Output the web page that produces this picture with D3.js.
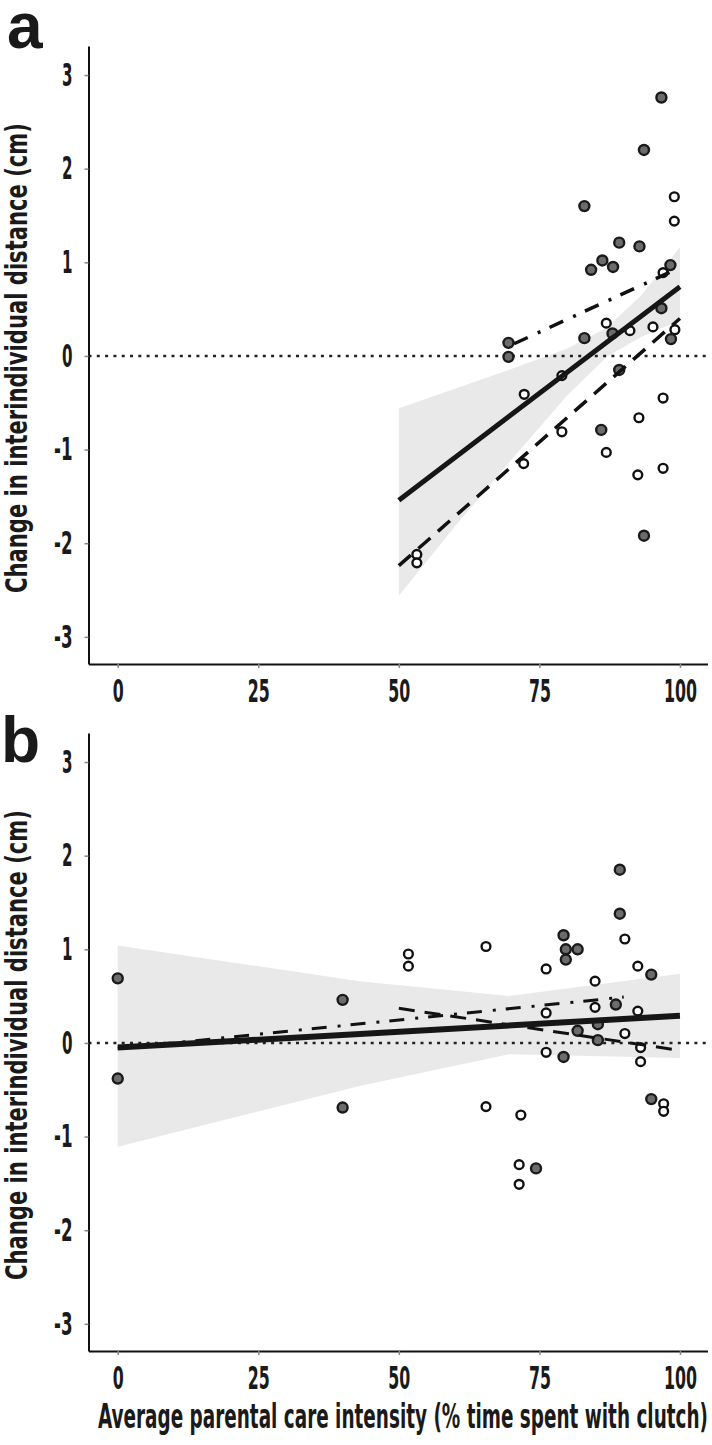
<!DOCTYPE html>
<html>
<head>
<meta charset="utf-8">
<script src="https://cdn.jsdelivr.net/npm/d3@7"></script>
<style>
  html, body { margin: 0; padding: 0; background: #fff; }
  svg { display: block; }
  text { font-family: "Liberation Sans Narrow", "DejaVu Sans Condensed", "Roboto", "Liberation Sans", sans-serif; font-stretch: condensed; fill: #1a1a1a; }
</style>
</head>
<body>
<script>
// ---------------- DATA ----------------
const xTicks = [0, 25, 50, 75, 100];
const yTicks = [-3, -2, -1, 0, 1, 2, 3];
const yTitle = "Change in interindividual distance (cm)";
const xTitle = "Average parental care intensity (% time spent with clutch)";
const panelLabels = ["a", "b"];

// Panel a – filled (grey) points
const aFilledX = [96.7, 93.6, 83.0, 89.2, 92.8, 86.2, 84.2, 88.1, 98.3, 96.7, 83.0, 69.5, 69.5, 98.4, 88.0, 89.2, 86.0, 93.6];
const aFilledY = [2.76, 2.20, 1.60, 1.21, 1.17, 1.02, 0.92, 0.95, 0.97, 0.51, 0.19, 0.14, -0.01, 0.18, 0.24, -0.15, -0.79, -1.92];
// Panel a – open points
const aOpenX = [99.0, 99.0, 97.0, 86.9, 91.1, 95.2, 99.1, 72.3, 79.0, 97.0, 92.7, 79.0, 86.9, 72.2, 97.0, 92.5, 53.2, 53.2];
const aOpenY = [1.70, 1.44, 0.89, 0.35, 0.27, 0.31, 0.28, -0.41, -0.21, -0.45, -0.66, -0.81, -1.03, -1.15, -1.20, -1.27, -2.12, -2.21];
// Panel a – fitted lines (x endpoints, y endpoints)
const aSolidX = [50, 100],   aSolidY = [-1.54, 0.74];
const aDashX = [50, 100],    aDashY = [-2.24, 0.40];
const aDashDotX = [70.5, 98.4], aDashDotY = [0.13, 0.90];
// Panel a – confidence band
const aBandX = [50, 60, 70, 80, 87, 93, 100];
const aBandLo = [-2.56, -1.82, -1.11, -0.42, -0.01, 0.20, 0.38];
const aBandHi = [-0.56, -0.35, -0.14, 0.08, 0.30, 0.64, 1.16];

// Panel b – filled (grey) points
const bFilledX = [0, 0, 40, 40, 89.3, 89.3, 79.3, 79.7, 81.8, 79.7, 94.9, 88.6, 81.8, 85.4, 85.4, 79.3, 94.9, 74.4];
const bFilledY = [0.69, -0.38, 0.46, -0.69, 1.85, 1.38, 1.15, 1.00, 1.00, 0.89, 0.73, 0.41, 0.13, 0.20, 0.03, -0.15, -0.60, -1.34];
// Panel b – open points
const bOpenX = [90.2, 51.7, 51.7, 65.5, 76.2, 92.5, 84.9, 84.9, 92.5, 76.2, 90.2, 93.0, 93.0, 76.2, 97.1, 97.1, 65.5, 71.7, 71.4, 71.4];
const bOpenY = [1.11, 0.95, 0.82, 1.03, 0.79, 0.82, 0.66, 0.38, 0.34, 0.32, 0.10, -0.05, -0.20, -0.10, -0.65, -0.73, -0.68, -0.77, -1.30, -1.51];
// Panel b – fitted lines
const bSolidX = [0, 100],    bSolidY = [-0.05, 0.29];
const bDashX = [50, 100],    bDashY = [0.37, -0.08];
const bDashDotX = [0, 90],   bDashDotY = [-0.06, 0.49];
// Panel b – confidence band
const bBandX = [0, 43, 69.6, 100];
const bBandLo = [-1.11, -0.46, -0.12, -0.16];
const bBandHi = [1.04, 0.66, 0.50, 0.74];

// ---------------- DRAW ----------------
const W = 712, H = 1445;
const svg = d3.select("body").append("svg").attr("width", W).attr("height", H);

const x = d3.scaleLinear().domain([-5.2, 104.9]).range([88.5, 707.5]);

const panels = [
  { top: 46, bottom: 664, label: panelLabels[0], labelX: 7, labelY: 48,
    filledX: aFilledX, filledY: aFilledY, openX: aOpenX, openY: aOpenY,
    solid: [aSolidX, aSolidY], dash: [aDashX, aDashY], dashdot: [aDashDotX, aDashDotY],
    band: [aBandX, aBandLo, aBandHi], solidW: 5, dashW: 3.5 },
  { top: 733, bottom: 1351, label: panelLabels[1], labelX: 1, labelY: 762,
    filledX: bFilledX, filledY: bFilledY, openX: bOpenX, openY: bOpenY,
    solid: [bSolidX, bSolidY], dash: [bDashX, bDashY], dashdot: [bDashDotX, bDashDotY],
    band: [bBandX, bBandLo, bBandHi], solidW: 6, dashW: 3 }
];

const tickFont = "'Liberation Sans Narrow', 'DejaVu Sans Condensed', 'Liberation Sans', sans-serif";

function fitText(sel, widthFn) {
  sel.each(function() {
    const w = widthFn(this.textContent);
    d3.select(this).attr("textLength", w).attr("lengthAdjust", "spacingAndGlyphs");
  });
}

panels.forEach(p => {
  const y = d3.scaleLinear().domain([-3.29, 3.31]).range([p.bottom, p.top]);
  const g = svg.append("g");

  // band
  const bandData = p.band[0].map((v, i) => ({ x: v, lo: p.band[1][i], hi: p.band[2][i] }));
  g.append("path")
    .attr("d", d3.area().x(d => x(d.x)).y0(d => y(d.lo)).y1(d => y(d.hi))(bandData))
    .attr("fill", "#e9e9e9");

  // zero line
  g.append("line")
    .attr("x1", x.range()[0]).attr("x2", x.range()[1])
    .attr("y1", y(0)).attr("y2", y(0))
    .attr("stroke", "#222").attr("stroke-width", 2.4)
    .attr("stroke-dasharray", "3,5.3");

  // points
  const open = p.openX.map((v, i) => ({ x: v, y: p.openY[i] }));
  const filled = p.filledX.map((v, i) => ({ x: v, y: p.filledY[i] }));
  g.selectAll(".op").data(open).enter().append("circle")
    .attr("cx", d => x(d.x)).attr("cy", d => y(d.y)).attr("r", 4.4)
    .attr("fill", "#fff").attr("stroke", "#111").attr("stroke-width", 2.4);
  g.selectAll(".fp").data(filled).enter().append("circle")
    .attr("cx", d => x(d.x)).attr("cy", d => y(d.y)).attr("r", 5)
    .attr("fill", "#6c6c6c").attr("stroke", "#1a1a1a").attr("stroke-width", 2.4);

  // lines
  const line = d3.line().x(d => x(d[0])).y(d => y(d[1]));
  const mk = (arr) => arr[0].map((v, i) => [v, arr[1][i]]);
  g.append("path").attr("d", line(mk(p.dash))).attr("fill", "none")
    .attr("stroke", "#111").attr("stroke-width", p.dashW).attr("stroke-dasharray", "16,10");
  g.append("path").attr("d", line(mk(p.dashdot))).attr("fill", "none")
    .attr("stroke", "#111").attr("stroke-width", p.dashW).attr("stroke-dasharray", "15,11,3,10");
  g.append("path").attr("d", line(mk(p.solid))).attr("fill", "none")
    .attr("stroke", "#161616").attr("stroke-width", p.solidW);

  // axes
  const ya = g.append("g").attr("transform", `translate(${x.range()[0]},0)`)
    .call(d3.axisLeft(y).tickValues(yTicks).tickSize(4).tickSizeOuter(0).tickPadding(12).tickFormat(d => String(d)));
  ya.select(".domain").attr("stroke", "#111").attr("stroke-width", 2);
  ya.selectAll(".tick line").attr("stroke", "#888").attr("stroke-width", 1.5);
  ya.selectAll(".tick text").attr("font-size", 32).attr("font-weight", 600)
    .attr("font-family", tickFont).attr("fill", "#1a1a1a");
  fitText(ya.selectAll(".tick text"), t => t.replace("-", "").length * 10.5 + (t.includes("-") ? 8 : 0));

  const xa = g.append("g").attr("transform", `translate(0,${p.bottom})`)
    .call(d3.axisBottom(x).tickValues(xTicks).tickSize(4).tickSizeOuter(0).tickPadding(11).tickFormat(d => String(d)));
  xa.select(".domain").attr("stroke", "#111").attr("stroke-width", 2);
  xa.selectAll(".tick line").attr("stroke", "#888").attr("stroke-width", 1.5);
  xa.selectAll(".tick text").attr("font-size", 32).attr("font-weight", 600)
    .attr("font-family", tickFont).attr("fill", "#1a1a1a");
  fitText(xa.selectAll(".tick text"), t => t.length * 11);

  // y title
  const cy = (p.top + p.bottom) / 2 + 3;
  g.append("text")
    .attr("transform", `translate(26.5,${cy}) rotate(-90)`)
    .attr("text-anchor", "middle")
    .attr("font-size", 30).attr("font-weight", 600)
    .attr("textLength", 470).attr("lengthAdjust", "spacingAndGlyphs")
    .text(yTitle);

  // panel label
  g.append("text").attr("x", p.labelX).attr("y", p.labelY)
    .attr("font-size", 64).attr("font-weight", 700)
    .style("font-family", "'Liberation Sans', 'DejaVu Sans', sans-serif")
    .attr("fill", "#000")
    .text(p.label);
});

// x title
svg.append("text")
  .attr("x", 403).attr("y", 1428)
  .attr("text-anchor", "middle")
  .attr("font-size", 33).attr("font-weight", 600)
  .attr("textLength", 610).attr("lengthAdjust", "spacingAndGlyphs")
  .text(xTitle);
</script>
</body>
</html>
